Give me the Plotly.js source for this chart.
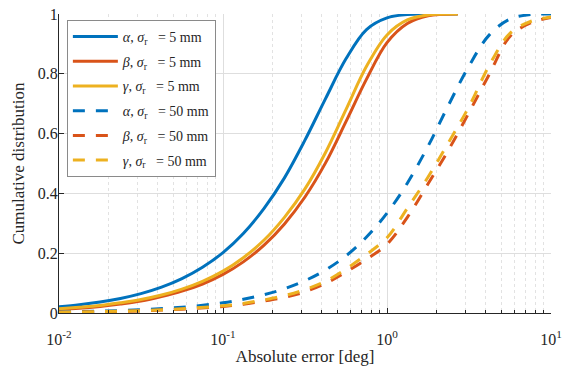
<!DOCTYPE html>
<html><head><meta charset="utf-8">
<script src="https://cdn.plot.ly/plotly-3.0.1.min.js"></script>
<style>html,body{margin:0;padding:0;background:#fff}#chart{width:568px;height:366px}</style>
</head><body><div id="chart"></div>
<script>
// Absolute error [deg] sample points
const xSolid = [0.01, 0.0133, 0.0178, 0.0237, 0.0316, 0.0422, 0.0562, 0.075, 0.1, 0.133, 0.178, 0.237, 0.316, 0.422, 0.562, 0.75, 1.0, 1.33, 1.78, 2.7];
const alpha5 = [0.0205, 0.0273, 0.0365, 0.0486, 0.0647, 0.0864, 0.115, 0.153, 0.202, 0.266, 0.350, 0.452, 0.578, 0.717, 0.850, 0.948, 0.987, 0.998, 1.0, 1.0];
const beta5  = [0.012, 0.016, 0.022, 0.030, 0.040, 0.055, 0.073, 0.097, 0.129, 0.171, 0.227, 0.298, 0.388, 0.502, 0.640, 0.782, 0.904, 0.968, 0.994, 1.0];
const gamma5 = [0.014, 0.019, 0.025, 0.034, 0.045, 0.060, 0.080, 0.106, 0.140, 0.185, 0.244, 0.320, 0.415, 0.537, 0.680, 0.825, 0.930, 0.980, 0.997, 1.0];

const xDashed = [0.01, 0.0178, 0.0316, 0.0562, 0.1, 0.133, 0.178, 0.237, 0.316, 0.422, 0.562, 0.75, 1.0, 1.33, 1.78, 2.37, 3.16, 4.22, 5.62, 7.5, 10];
const alpha50 = [0.0034, 0.0061, 0.0109, 0.0193, 0.034, 0.046, 0.061, 0.081, 0.108, 0.144, 0.191, 0.254, 0.334, 0.434, 0.558, 0.695, 0.826, 0.931, 0.983, 0.998, 1.0];
const beta50  = [0.0023, 0.004, 0.0072, 0.0128, 0.022, 0.029, 0.040, 0.052, 0.071, 0.099, 0.137, 0.180, 0.230, 0.320, 0.432, 0.545, 0.670, 0.800, 0.925, 0.970, 0.988];
const gamma50 = [0.0025, 0.0045, 0.008, 0.014, 0.024, 0.032, 0.044, 0.058, 0.078, 0.106, 0.147, 0.196, 0.252, 0.350, 0.455, 0.570, 0.690, 0.830, 0.935, 0.975, 0.990];

const names = ['<i>\u03b1</i>, <i>\u03c3</i><sub>r</sub>\u00a0\u00a0 = 5 mm', '<i>\u03b2</i>, <i>\u03c3</i><sub>r</sub>\u00a0\u00a0 = 5 mm', '<i>\u03b3</i>, <i>\u03c3</i><sub>r</sub>\u00a0\u00a0 = 5 mm',
               '<i>\u03b1</i>, <i>\u03c3</i><sub>r</sub>\u00a0\u00a0 = 50 mm', '<i>\u03b2</i>, <i>\u03c3</i><sub>r</sub>\u00a0\u00a0 = 50 mm', '<i>\u03b3</i>, <i>\u03c3</i><sub>r</sub>\u00a0\u00a0 = 50 mm'];
const xTickVals = [0.01, 0.1, 1, 10];
const xTickText = ['10<sup>-2</sup>', '10<sup>-1</sup>', '10<sup>0</sup>', '10<sup>1</sup>'];
const xMinorVals = [0.02,0.03,0.04,0.05,0.06,0.07,0.08,0.09,0.2,0.3,0.4,0.5,0.6,0.7,0.8,0.9,2,3,4,5,6,7,8,9];

const colors = ['#0072BD', '#D95319', '#EDB120'];
const series = [[xSolid, alpha5], [xSolid, beta5], [xSolid, gamma5], [xDashed, alpha50], [xDashed, beta50], [xDashed, gamma50]];

const traces = series.map((s, i) => ({
  x: s[0], y: s[1], type: 'scatter', mode: 'lines', name: names[i], legendgroup: 'g' + i,
  line: {color: colors[i % 3], width: 3, shape: 'spline', smoothing: 1, dash: i < 3 ? 'solid' : '12px,11px'},
  cliponaxis: true
}));

const font = {family: '"Liberation Serif", "Times New Roman", serif', color: '#262626'};
const layout = {
  width: 568, height: 366,
  margin: {l: 59, r: 17, t: 14, b: 53},
  paper_bgcolor: '#fff', plot_bgcolor: '#fff',
  font: Object.assign({size: 14}, font),
  showlegend: true,
  legend: {x: 0.016, y: 0.98, xanchor: 'left', yanchor: 'top', bgcolor: '#fff', bordercolor: '#8a8a8a', borderwidth: 1,
           font: Object.assign({size: 14}, font), itemwidth: 45, tracegroupgap: 3.5, traceorder: 'grouped'},
  xaxis: {
    type: 'log', range: [-2, 1], tickmode: 'array', tickvals: xTickVals, ticktext: xTickText,
    ticks: 'inside', ticklen: 5, tickcolor: '#262626', showline: true, linecolor: '#262626', linewidth: 1,
    showgrid: true, gridcolor: '#dedede', gridwidth: 1, zeroline: false, mirror: false,
    tickfont: Object.assign({size: 16}, font), ticklabelstandoff: 12,
    minor: {tickmode: 'array', tickvals: xMinorVals, ticks: 'inside', ticklen: 3, tickcolor: '#262626',
            showgrid: true, gridcolor: '#e2e2e2', griddash: 'dot', gridwidth: 1},
    title: {text: 'Absolute error [deg]', font: Object.assign({size: 17}, font), standoff: 3},
    automargin: false
  },
  yaxis: {
    range: [0, 1], dtick: 0.2, tick0: 0, ticks: 'inside', ticklen: 5, tickcolor: '#262626',
    showline: true, linecolor: '#262626', linewidth: 1, showgrid: true, gridcolor: '#dedede', zeroline: false,
    tickfont: Object.assign({size: 16}, font), ticklabelstandoff: -3,
    title: {text: 'Cumulative distribution', font: Object.assign({size: 17}, font), standoff: 8},
    automargin: false
  }
};

Plotly.newPlot('chart', traces, layout, {staticPlot: true, displayModeBar: false}).then(gd => {
  gd.querySelectorAll('.legend .js-line').forEach(p => p.setAttribute('d', 'M5,0h45'));
});
</script>
</body></html>
